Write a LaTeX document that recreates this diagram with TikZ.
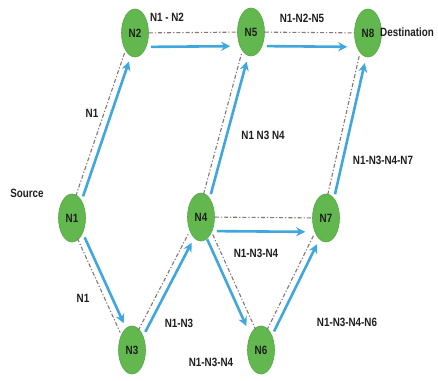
\documentclass[tikz,border=0pt]{standalone}
\usepackage{fontspec}
\setmainfont[FakeStretch=0.82]{Liberation Sans}
\usetikzlibrary{shapes.geometric,arrows.meta}
\definecolor{nodegreen}{HTML}{62B84E}
\definecolor{nodeedge}{HTML}{55A844}
\definecolor{pathblue}{HTML}{3FA6DE}
\definecolor{linkgray}{HTML}{857873}
\definecolor{txt}{HTML}{1E1E1E}
\tikzset{
  router/.style={ellipse, fill=nodegreen, draw=nodeedge, line width=0.6pt,
    minimum width=27pt, minimum height=48pt, inner sep=0pt,
    font=\bfseries\fontsize{12}{12}\selectfont, text=txt},
  lbl/.style={font=\bfseries\fontsize{12}{12}\selectfont, text=txt, inner sep=0pt},
  link/.style={draw=linkgray, line width=1.1pt,
    dash pattern=on 4pt off 2pt on 1.2pt off 2pt},
  hop/.style={draw=pathblue, line width=2.6pt,
    -{Stealth[length=9pt,width=9pt]}, shorten <=2pt, shorten >=7pt},
}
\begin{document}
\begin{tikzpicture}[x=1pt,y=-1pt]
\useasboundingbox (0,0) rectangle (438,380);

% routers
\node[router] (N1) at (72,218) {N1};
\node[router] (N2) at (135,33) {N2};
\node[router] (N5) at (251,32) {N5};
\node[router] (N8) at (368,33) {N8};
\node[router] (N3) at (132,350) {N3};
\node[router] (N4) at (201,217) {N4};
\node[router] (N7) at (326,218) {N7};
\node[router] (N6) at (261,350) {N6};

% links (dash-dot) and the forwarded packets (blue arrows)
\draw[link, transform canvas={shift={(-3.3pt,1.1pt)}}] (N1) -- (N2);
\draw[hop,  transform canvas={shift={(3.3pt,-1.1pt)}}] (N1) -- (N2);

\draw[link, transform canvas={shift={(-3.2pt,-1.45pt)}}] (N1) -- (N3);
\draw[hop,  transform canvas={shift={(3.2pt,1.45pt)}}] (N1) -- (N3);

\draw[link, transform canvas={shift={(-3.1pt,1.6pt)}}] (N3) -- (N4);
\draw[hop,  transform canvas={shift={(3.1pt,-1.6pt)}}] (N3) -- (N4);

\draw[link, transform canvas={shift={(-3.4pt,0.9pt)}}] (N4) -- (N5);
\draw[hop,  transform canvas={shift={(3.4pt,-0.9pt)}}] (N4) -- (N5);

\draw[link, transform canvas={shift={(3.2pt,1.44pt)}}] (N4) -- (N6);
\draw[hop,  transform canvas={shift={(-3.2pt,-1.44pt)}}] (N4) -- (N6);

\draw[link, transform canvas={shift={(-3.1pt,1.55pt)}}] (N6) -- (N7);
\draw[hop,  transform canvas={shift={(3.1pt,-1.55pt)}}] (N6) -- (N7);

\draw[link, transform canvas={shift={(-3.4pt,0.77pt)}}] (N7) -- (N8);
\draw[hop,  transform canvas={shift={(3.4pt,-0.77pt)}}] (N7) -- (N8);

\draw[link] (N2) -- (N5);
\draw[hop, transform canvas={shift={(0pt,-14pt)}}] (N2) -- (N5);

\draw[link] (N5) -- (N8);
\draw[hop, transform canvas={shift={(0pt,-14pt)}}] (N5) -- (N8);

\draw[link] (N4) -- (N7);
\draw[hop, transform canvas={shift={(0pt,-14pt)}}] (N4) -- (N7);

% labels
\node[lbl] (tSrc) at (27,193) {Source};
\node[lbl] (tDst) at (407,32) {Destination};
\node[lbl] (t12) at (167,17) {N1 - N2};
\node[lbl] (t125) at (302,18) {N1-N2-N5};
\node[lbl] (t1a) at (92,113) {N1};
\node[lbl] (t1b) at (83,298) {N1};
\node[lbl] (t134a) at (263,135) {N1 N3 N4};
\node[lbl] (t1347) at (383,160) {N1-N3-N4-N7};
\node[lbl] (t134b) at (256,253) {N1-N3-N4};
\node[lbl] (t13) at (179,323) {N1-N3};
\node[lbl] (t134c) at (211,362) {N1-N3-N4};
\node[lbl] (t1346) at (347,322) {N1-N3-N4-N6};
\end{tikzpicture}
\end{document}
